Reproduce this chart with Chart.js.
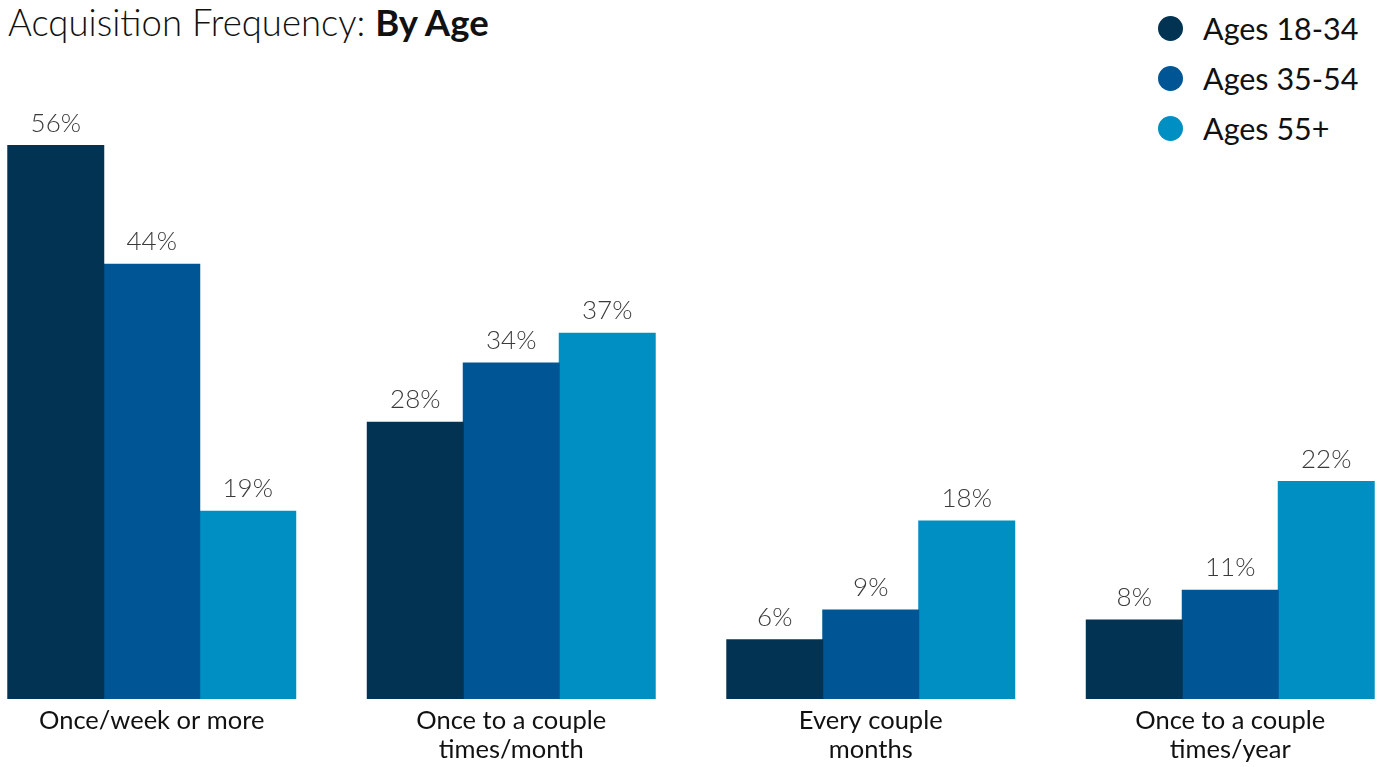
<!DOCTYPE html>
<html>
<head>
<meta charset="utf-8">
<script src="https://cdn.jsdelivr.net/npm/chart.js@4.4.1/dist/chart.umd.min.js"></script>
<style>
    html, body { margin: 0; padding: 0; background: #fff; overflow: hidden; }
    body { width: 1381px; height: 767px; position: relative; font-family: Lato, "Open Sans", sans-serif; }
    #title { position: absolute; left: 8px; top: 0px; font-size: 36.5px; font-weight: 300; color: #111; white-space: nowrap; line-height: 44px; }
    #title b { font-weight: 700; }
    #legend { position: absolute; left: 1158px; top: 3px; }
    .item { height: 50px; display: flex; align-items: center; font-size: 30.5px; color: #111; font-weight: 400; }
    .dot { width: 25px; height: 25px; border-radius: 50%; margin-right: 20px; }
    #wrap { position: absolute; left: -28px; top: 0; width: 1438px; height: 767px; }
</style>
</head>
<body>
<div id="title">Acquisition Frequency: <b>By Age</b></div>
<div id="legend"></div>
<div id="wrap"><canvas id="chart" width="1438" height="767"></canvas></div>
<script>
// Data
const categories = [
    "Once/week or more",
    ["Once to a couple", "times/month"],
    ["Every couple", "months"],
    ["Once to a couple", "times/year"],
];
const seriesNames = ["Ages 18-34", "Ages 35-54", "Ages 55+"];
const ages18to34 = [56, 28, 6, 8];
const ages35to54 = [44, 34, 9, 11];
const ages55plus = [19, 37, 18, 22];
const colors = ["#033352", "#005695", "#008fc3"];

// Build the legend
const legend = document.getElementById("legend");
seriesNames.forEach((name, i) => {
    const row = document.createElement("div");
    row.className = "item";
    row.innerHTML = '<span class="dot" style="background:' + colors[i] + '"></span>' + name;
    legend.appendChild(row);
});

// Draw the value labels above each bar
const valueLabels = {
    id: "valueLabels",
    afterDatasetsDraw(chart) {
        const ctx = chart.ctx;
        ctx.save();
        ctx.font = "300 26px Lato";
        ctx.fillStyle = "#3a3a3a";
        ctx.textAlign = "center";
        ctx.textBaseline = "alphabetic";
        chart.data.datasets.forEach((ds, i) => {
            chart.getDatasetMeta(i).data.forEach((bar, j) => {
                ctx.fillText(ds.data[j] + "%", bar.x, bar.y - 14);
            });
        });
        ctx.restore();
    },
};

const seriesData = [ages18to34, ages35to54, ages55plus];

new Chart(document.getElementById("chart"), {
    type: "bar",
    data: {
        labels: categories,
        datasets: seriesNames.map((name, i) => ({
            label: name,
            data: seriesData[i],
            backgroundColor: colors[i],
            borderWidth: 0,
            inflateAmount: 0.5,
            barPercentage: 1,
            categoryPercentage: 0.801,
        })),
    },
    options: {
        responsive: false,
        maintainAspectRatio: false,
        animation: false,
        layout: { padding: { top: 106, left: 0, right: 0, bottom: 0 } },
        plugins: {
            legend: { display: false },
            title: { display: false },
            tooltip: { enabled: false },
        },
        scales: {
            x: {
                grid: { display: false, drawTicks: false },
                border: { display: false },
                ticks: {
                    color: "#111",
                    padding: 7,
                    maxRotation: 0,
                    autoSkip: false,
                    font: { family: "Lato", size: 25.5, lineHeight: 1.14 },
                },
                afterFit(scale) {
                    scale.height = 68;
                },
            },
            y: {
                display: false,
                min: 0,
                max: 60,
            },
        },
    },
    plugins: [valueLabels],
});
</script>
</body>
</html>
